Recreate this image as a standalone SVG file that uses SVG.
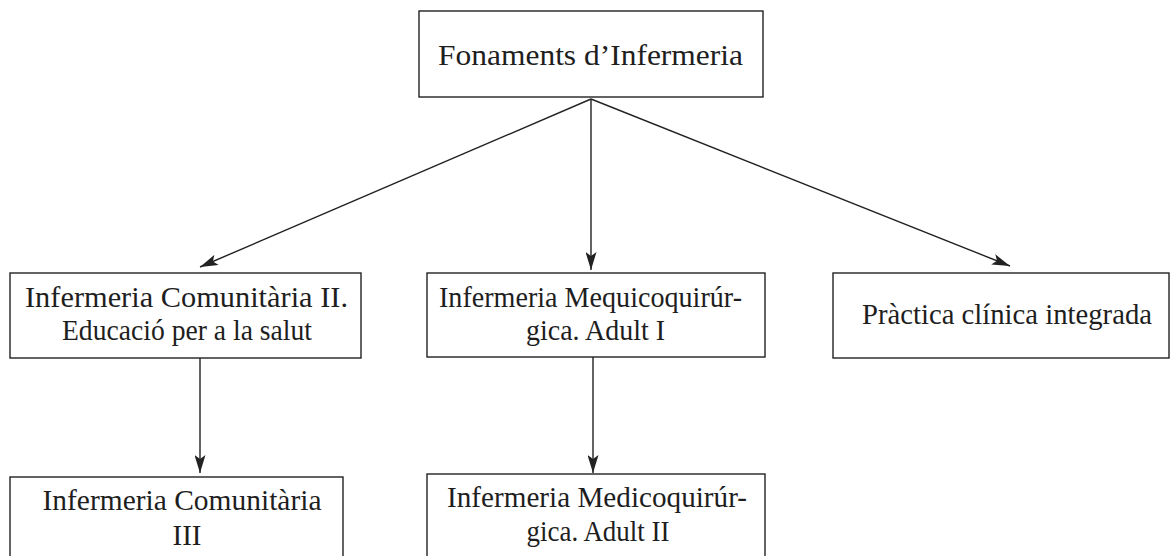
<svg xmlns="http://www.w3.org/2000/svg" width="1170" height="556" viewBox="0 0 1170 556">
<style>
.box{fill:#fff;stroke:#222;stroke-width:1.4}
.t{font-family:"Liberation Serif",serif;font-size:29px;fill:#1e1e1e;text-anchor:middle}
.c{stroke:#222;stroke-width:1.4;fill:none;marker-end:url(#ah)}
</style>
<defs>
<marker id="ah" viewBox="0 0 18 11" refX="18" refY="5.5" markerWidth="18" markerHeight="11" markerUnits="userSpaceOnUse" orient="auto">
<path d="M0,0 L18,5.5 L0,11 L4,5.5 Z" fill="#222"/>
</marker>
</defs>
<g id="connectors">
<path class="c" d="M591,99 L200,267"/>
<path class="c" d="M591,99 L591,270"/>
<path class="c" d="M591,99 L1010,266"/>
<path class="c" d="M200,358 L200,473"/>
<path class="c" d="M593,357 L593,473"/>
</g>
<g id="n0"><rect class="box" x="419" y="11" width="344" height="86"/><text class="t" x="590.5" y="65" textLength="305" lengthAdjust="spacingAndGlyphs">Fonaments d’Infermeria</text></g>
<g id="n1"><rect class="box" x="10" y="273" width="351" height="85"/><text class="t" x="186.5" y="307" textLength="323" lengthAdjust="spacingAndGlyphs">Infermeria Comunitària II.</text><text class="t" x="187" y="340" textLength="250" lengthAdjust="spacingAndGlyphs">Educació per a la salut</text></g>
<g id="n2"><rect class="box" x="427" y="273" width="338" height="84"/><text class="t" x="590.5" y="307" textLength="303" lengthAdjust="spacingAndGlyphs">Infermeria Mequicoquirúr-</text><text class="t" x="595.5" y="340" textLength="139" lengthAdjust="spacingAndGlyphs">gica. Adult I</text></g>
<g id="n3"><rect class="box" x="833" y="273" width="336" height="85"/><text class="t" x="1007" y="324" textLength="290" lengthAdjust="spacingAndGlyphs">Pràctica clínica integrada</text></g>
<g id="n4"><rect class="box" x="10" y="477" width="333" height="100"/><text class="t" x="182" y="510" textLength="279" lengthAdjust="spacingAndGlyphs">Infermeria Comunitària</text><text class="t" x="187" y="545">III</text></g>
<g id="n5"><rect class="box" x="427" y="474" width="338" height="100"/><text class="t" x="597" y="507" textLength="300" lengthAdjust="spacingAndGlyphs">Infermeria Medicoquirúr-</text><text class="t" x="598" y="541" textLength="143" lengthAdjust="spacingAndGlyphs">gica. Adult II</text></g>
</svg>
